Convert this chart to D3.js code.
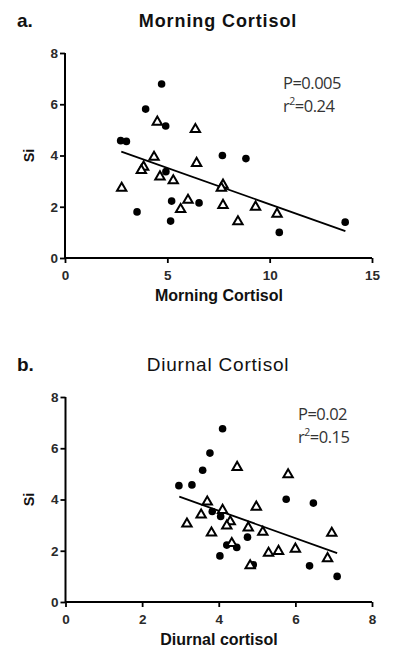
<!DOCTYPE html>
<html><head><meta charset="utf-8">
<script src="https://cdn.jsdelivr.net/npm/d3@7"></script>
<style>
html,body{margin:0;padding:0;background:#fff;}
svg{display:block;}
</style></head>
<body>
<svg id="c" width="400" height="663"></svg>
<script>
// ---- Panel a: Morning Cortisol ----
const aCircleX = [4.72,3.94,4.92,2.72,3.00,7.69,8.84,4.93,5.21,6.55,3.52,5.16,10.47,13.69];
const aCircleY = [6.79,5.81,5.15,4.58,4.55,4.00,3.88,3.37,2.22,2.15,1.80,1.44,1.00,1.40];
const aTriX = [4.51,6.37,4.35,6.43,3.84,3.73,4.64,5.29,7.72,7.64,2.77,6.01,5.65,7.72,9.31,10.36,8.45];
const aTriY = [5.31,5.02,3.94,3.70,3.55,3.42,3.17,3.02,2.85,2.73,2.73,2.26,1.90,2.06,1.99,1.72,1.42];
const aFitX = [2.75,13.7];
const aFitY = [4.15,1.05];
const aXTicks = [0,5,10,15];
const aYTicks = [0,2,4,6,8];

// ---- Panel b: Diurnal Cortisol ----
const bCircleX = [4.10,3.77,3.58,2.96,3.30,5.76,6.47,3.83,4.05,4.75,4.21,4.47,4.03,4.90,6.37,7.09];
const bCircleY = [6.76,5.81,5.14,4.54,4.57,4.01,3.86,3.53,3.34,2.53,2.22,2.13,1.80,1.45,1.41,1.00];
const bTriX = [4.48,5.81,3.70,4.98,4.10,3.54,4.30,3.17,4.21,4.77,5.15,3.81,6.95,4.34,6.00,5.56,5.30,6.84,4.82];
const bTriY = [5.26,4.97,3.91,3.71,3.58,3.40,3.14,3.05,2.97,2.90,2.73,2.70,2.69,2.29,2.07,1.98,1.91,1.70,1.42];
const bFitX = [2.97,7.09];
const bFitY = [4.11,1.91];
const bXTicks = [0,2,4,6,8];
const bYTicks = [0,2,4,6,8];

const panels = [
  {letter:"a.", title:"Morning Cortisol", xlabel:"Morning Cortisol", ylabel:"Si",
   cx:aCircleX, cy:aCircleY, tx:aTriX, ty:aTriY, fx:aFitX, fy:aFitY,
   xt:aXTicks, yt:aYTicks, xdom:[0,15], ydom:[0,8],
   stats:["P=0.005","0.24"], titleWeight:700, titleLS:0.9, titleSize:18,
   left:65, right:372, top:53, bottom:258, titleY:27, statX:283, statY1:89, statY2:112},
  {letter:"b.", title:"Diurnal Cortisol", xlabel:"Diurnal cortisol", ylabel:"Si",
   cx:bCircleX, cy:bCircleY, tx:bTriX, ty:bTriY, fx:bFitX, fy:bFitY,
   xt:bXTicks, yt:bYTicks, xdom:[0,8], ydom:[0,8],
   stats:["P=0.02","0.15"], titleWeight:400, titleLS:0.8, titleSize:19,
   left:65.5, right:372, top:397, bottom:602, titleY:371, statX:298, statY1:420, statY2:443}
];

const svg = d3.select("#c");
const tri = d3.symbol().type(d3.symbolTriangle).size(38);
const FONT = "Liberation Sans, Arial, sans-serif";

panels.forEach(p => {
  const g = svg.append("g");
  const x = d3.scaleLinear().domain(p.xdom).range([p.left, p.right]);
  const y = d3.scaleLinear().domain(p.ydom).range([p.bottom, p.top]);

  g.append("text").attr("x",17).attr("y",p.titleY).text(p.letter)
    .attr("font-family",FONT).attr("font-weight",700)
    .attr("font-size",19).attr("fill","#111");
  g.append("text").attr("x",218).attr("y",p.titleY).attr("text-anchor","middle").text(p.title)
    .attr("font-family",FONT).attr("font-weight",p.titleWeight)
    .attr("letter-spacing",p.titleLS)
    .attr("font-size",p.titleSize).attr("fill","#111");

  const xa = g.append("g").attr("transform",`translate(0,${p.bottom})`)
    .call(d3.axisBottom(x).tickValues(p.xt).tickSize(5).tickPadding(7).tickFormat(d3.format("d")));
  const ya = g.append("g").attr("transform",`translate(${p.left},0)`)
    .call(d3.axisLeft(y).tickValues(p.yt).tickSize(5).tickPadding(2).tickFormat(d3.format("d")));
  [xa,ya].forEach(a => {
    a.select(".domain").attr("stroke","#000").attr("stroke-width",2);
    a.selectAll(".tick line").attr("stroke","#000").attr("stroke-width",1.8);
    a.selectAll(".tick text").attr("font-family",FONT).attr("font-weight",700)
      .attr("font-size",13.5).attr("fill","#2a2a2a");
  });
  xa.select(".domain").attr("d",`M${p.left},0H${p.right}`);
  ya.select(".domain").attr("d",`M0,${p.bottom}V${p.top}`);

  g.append("text").attr("x",219).attr("y",p.bottom+43).attr("text-anchor","middle").text(p.xlabel)
    .attr("font-family",FONT).attr("font-weight",700)
    .attr("font-size",16).attr("fill","#111");
  g.append("text").attr("transform",`translate(34,${(p.top+p.bottom)/2}) rotate(-90)`)
    .attr("text-anchor","middle").text(p.ylabel)
    .attr("font-family",FONT).attr("font-weight",700)
    .attr("font-size",14.5).attr("fill","#111");

  // regression line
  g.append("line").attr("x1",x(p.fx[0])).attr("y1",y(p.fy[0]))
    .attr("x2",x(p.fx[1])).attr("y2",y(p.fy[1])).attr("stroke","#000").attr("stroke-width",1.8);

  // circles
  g.selectAll("circle.pt").data(p.cx.map((v,i)=>[v,p.cy[i]])).join("circle")
    .attr("cx",d=>x(d[0])).attr("cy",d=>y(d[1])).attr("r",3.8).attr("fill","#000");
  // triangles
  g.selectAll("path.tri").data(p.tx.map((v,i)=>[v,p.ty[i]])).join("path").attr("class","tri")
    .attr("d",tri).attr("transform",d=>`translate(${x(d[0])},${y(d[1])})`)
    .attr("fill","#fff").attr("stroke","#000").attr("stroke-width",2);

  // stats
  g.append("text").attr("x",p.statX).attr("y",p.statY1).text(p.stats[0])
    .attr("font-family","Open Sans, sans-serif").attr("font-size",16.5)
    .attr("letter-spacing",-0.5).attr("fill","#333");
  const t2 = g.append("text").attr("x",p.statX).attr("y",p.statY2)
    .attr("font-family","Open Sans, sans-serif").attr("font-size",16.5)
    .attr("letter-spacing",-0.5).attr("fill","#333");
  t2.append("tspan").text("r");
  t2.append("tspan").attr("dy",-7).attr("font-size",10.5).text("2");
  t2.append("tspan").attr("dy",7).text("=" + p.stats[1]);
});
</script>
</body></html>
